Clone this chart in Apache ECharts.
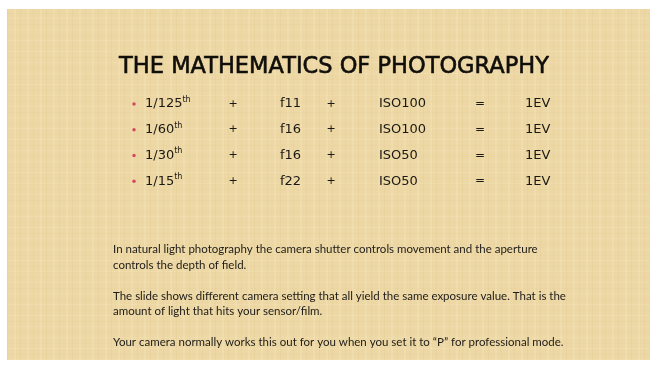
<!DOCTYPE html>
<html>
<head>
<meta charset="utf-8">
<script src="https://cdn.jsdelivr.net/npm/echarts@6/dist/echarts.min.js"></script>
<style>
    html, body { margin: 0; padding: 0; background: #ffffff; }
    #slide {
        position: absolute; left: 7px; top: 9px; width: 643px; height: 351px;
        background-color: #edd8a5;
        background-image:
            repeating-linear-gradient(90deg, rgba(190,150,80,0.08) 0px, rgba(190,150,80,0.08) 1px, rgba(0,0,0,0) 1px, rgba(0,0,0,0) 7px, rgba(255,245,215,0.16) 7px, rgba(255,245,215,0.16) 9px, rgba(0,0,0,0) 9px, rgba(0,0,0,0) 13px),
            repeating-linear-gradient(0deg, rgba(255,245,215,0.12) 0px, rgba(255,245,215,0.12) 1px, rgba(0,0,0,0) 1px, rgba(0,0,0,0) 5px, rgba(190,150,80,0.05) 5px, rgba(190,150,80,0.05) 6px, rgba(0,0,0,0) 6px, rgba(0,0,0,0) 11px);
    }
</style>
</head>
<body>
<div id="slide"></div>
<script>
    // rows of the table
    var shutter = ['1/125', '1/60', '1/30', '1/15'];
    var aperture = ['f11', 'f16', 'f16', 'f22'];
    var iso = ['ISO100', 'ISO100', 'ISO50', 'ISO50'];
    var result = ['1EV', '1EV', '1EV', '1EV'];

    var titleText = 'THE MATHEMATICS OF PHOTOGRAPHY';
    var notes = [
        'In natural light photography the camera shutter controls movement and the aperture',
        'controls the depth of field.',
        '',
        'The slide shows different camera setting that all yield the same exposure value. That is the',
        'amount of light that hits your sensor/film.',
        '',
        'Your camera normally works this out for you when you set it to \u201cP\u201d for professional mode.'
    ];

    // tab stops of the table (x axis units)
    var stops = {bullet: 127, shutter: 138, plus1: 226, aperture: 273, plus2: 324, iso: 372, eq: 473, result: 518};

    var tableFont = 'DejaVu Sans';
    var ink = '#1a1813';

    function textColumn(name, x, values, align, formatter, size){
        return {
            name: name,
            type: 'scatter',
            symbolSize: 0,
            silent: true,
            itemStyle: {opacity: 1},
            data: values.map(function(v, i){ return {value: [x, i], txt: v}; }),
            label: {
                show: true,
                position: 'inside',
                align: align,
                verticalAlign: 'middle',
                color: ink,
                fontFamily: tableFont,
                fontSize: size || 13,
                textBorderWidth: 0,
                formatter: formatter || function(p){ return p.data.txt; },
                rich: {
                    b: {fontFamily: tableFont, fontSize: 13, color: ink, lineHeight: 16},
                    th: {fontFamily: tableFont, fontSize: 8, color: ink, verticalAlign: 'top', lineHeight: 10}
                }
            }
        };
    }

    var rowIdx = shutter.map(function(s, i){ return i; });
    var plusSigns = shutter.map(function(){ return '+'; });
    var equalSigns = shutter.map(function(){ return '='; });

    var chart = echarts.init(document.getElementById('slide'));
    chart.setOption({
        backgroundColor: 'transparent',
        animation: false,
        title: [{
            text: titleText,
            left: 327,
            top: 47,
            padding: 0,
            textAlign: 'center',
            textStyle: {fontFamily: tableFont, fontWeight: 'normal', fontSize: 22.5, color: '#100e0b',
                textBorderColor: '#100e0b', textBorderWidth: 0.6}
        }, {
            text: notes.join('\n'),
            left: 106,
            top: 233,
            padding: 0,
            textStyle: {fontFamily: 'Lato', fontWeight: 'normal', fontSize: 11.5, lineHeight: 15.5, color: '#1e1c18'}
        }],
        grid: {left: 0, right: 0, top: 82, height: 103},
        xAxis: {type: 'value', min: 0, max: 643, show: false},
        yAxis: {type: 'value', min: -0.5, max: 3.5, inverse: true, show: false},
        series: [
            {
                name: 'bullet',
                type: 'scatter',
                symbol: 'circle',
                symbolSize: 3.5,
                silent: true,
                itemStyle: {color: '#d24a62', opacity: 1},
                data: rowIdx.map(function(i){ return [stops.bullet, i]; })
            },
            textColumn('shutter', stops.shutter, shutter, 'left', function(p){
                return '{b|' + p.data.txt + '}{th|th}';
            }),
            textColumn('plus1', stops.plus1, plusSigns, 'center', null, 11),
            textColumn('aperture', stops.aperture, aperture, 'left'),
            textColumn('plus2', stops.plus2, plusSigns, 'center', null, 11),
            textColumn('iso', stops.iso, iso, 'left'),
            textColumn('eq', stops.eq, equalSigns, 'center', null, 12),
            textColumn('result', stops.result, result, 'left')
        ]
    });
</script>
</body>
</html>
